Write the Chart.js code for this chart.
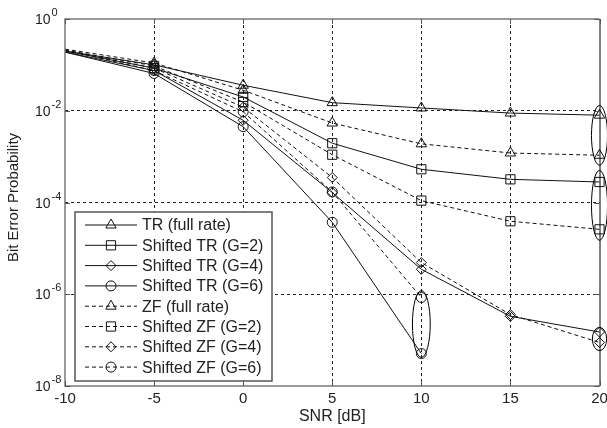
<!DOCTYPE html>
<html><head><meta charset="utf-8">
<script src="https://cdn.jsdelivr.net/npm/chart.js@4/dist/chart.umd.min.js"></script>
<style>html,body{margin:0;padding:0;background:#fff;overflow:hidden}canvas{display:block}</style>
</head><body>
<canvas id="c" width="607" height="428"></canvas>
<script>
// ---- data ----
const snr = [-10, -5, 0, 5, 10, 15, 20];
const trFull  = [0.20, 0.10,  0.036,  0.015,   0.0115,   0.0089,   0.0080];
const trG2    = [0.20, 0.085, 0.020,  0.00196, 0.00053,  0.00032,  0.00028];
const trG4    = [0.19, 0.075, 0.0062, 0.000165,0.0000035,0.00000033,0.00000015];
const trG6    = [0.19, 0.065, 0.0045, 0.000037,0.000000051, null, null];
const zfFull  = [0.22, 0.11,  0.028,  0.0054,  0.0019,   0.0012,   0.00107];
const zfG2    = [0.21, 0.095, 0.0155, 0.0011,  0.00011,  0.000039, 0.000026];
const zfG4    = [0.21, 0.085, 0.012,  0.00035, 0.0000049,0.00000036,0.000000089];
const zfG6    = [0.21, 0.075, 0.0095, 0.00017, 0.00000085, null, null];
const seriesNames = ['TR (full rate)', 'Shifted TR (G=2)', 'Shifted TR (G=4)', 'Shifted TR (G=6)',
                     'ZF (full rate)', 'Shifted ZF (G=2)', 'Shifted ZF (G=4)', 'Shifted ZF (G=6)'];
const seriesValues = [trFull, trG2, trG4, trG6, zfFull, zfG2, zfG4, zfG6];
const xTickValues = [-10, -5, 0, 5, 10, 15, 20];
const yTickExponents = [0, -2, -4, -6, -8];
const xTitle = 'SNR [dB]';
const yTitle = 'Bit Error Probability';
// annotation ellipses (data coordinates)
const ellipseX    = [10, 20, 20, 20];
const ellipseHigh = [1.2e-6, 1.3e-2, 5e-4, 1.9e-7];
const ellipseLow  = [4.2e-8, 6.5e-4, 1.5e-5, 5.9e-8];
const ellipseHalfWidthDb = [0.5, 0.45, 0.45, 0.4];

// ---- styles ----
const markerStyles = ['triangle', 'rect', 'rectRot', 'circle'];
const markerRadius = {triangle: 6, rect: 6.5, rectRot: 5, circle: 5};
const FONT = "'Liberation Sans', Arial, sans-serif";
const lineColor = '#111';

const datasets = seriesValues.map((vals, i) => {
  const ps = markerStyles[i % 4];
  const dashed = i >= 4;
  return {
    label: seriesNames[i],
    data: snr.map((x, k) => ({x: x, y: vals[k]})),
    borderColor: lineColor,
    borderWidth: 1,
    borderDash: dashed ? [4, 3] : [],
    pointStyle: ps,
    pointRadius: (ctx) => ctx.dataIndex === 0 ? 0 : markerRadius[ps],
    pointBorderColor: lineColor,
    pointBackgroundColor: 'rgba(0,0,0,0)',
    pointBorderWidth: 1,
    pointHoverRadius: markerRadius[ps],
    tension: 0,
    spanGaps: false,
    clip: false,
    fill: false
  };
});

const decor = {
  id: 'decor',
  afterDraw(chart) {
    const ctx = chart.ctx;
    const a = chart.chartArea;
    const xs = chart.scales.x, ys = chart.scales.y;
    ctx.save();
    // ellipses
    ctx.strokeStyle = '#000'; ctx.lineWidth = 1; ctx.setLineDash([]);
    for (let i = 0; i < ellipseX.length; i++) {
      const cx = xs.getPixelForValue(ellipseX[i]);
      const y1 = ys.getPixelForValue(ellipseHigh[i]);
      const y2 = ys.getPixelForValue(ellipseLow[i]);
      const hw = Math.abs(xs.getPixelForValue(ellipseX[i] + ellipseHalfWidthDb[i]) - cx);
      ctx.beginPath();
      ctx.ellipse(cx, (y1 + y2) / 2, hw, Math.abs(y2 - y1) / 2, 0, 0, Math.PI * 2);
      ctx.stroke();
    }
    // axes box
    ctx.lineWidth = 1.5; ctx.strokeStyle = '#7a7a7a';
    ctx.beginPath();
    ctx.moveTo(a.right, a.top); ctx.lineTo(a.left, a.top); ctx.lineTo(a.left, a.bottom); ctx.lineTo(a.right, a.bottom);
    ctx.stroke();
    ctx.lineWidth = 1; ctx.strokeStyle = '#000';
    ctx.beginPath(); ctx.moveTo(a.right + 0.5, a.top); ctx.lineTo(a.right + 0.5, a.bottom); ctx.stroke();
    // inner ticks
    ctx.strokeStyle = '#555'; ctx.lineWidth = 1;
    ctx.beginPath();
    xTickValues.forEach(v => {
      const px = Math.round(xs.getPixelForValue(v)) + 0.5;
      ctx.moveTo(px, a.bottom); ctx.lineTo(px, a.bottom - 5);
      ctx.moveTo(px, a.top); ctx.lineTo(px, a.top + 5);
    });
    yTickExponents.forEach(e => {
      const py = Math.round(ys.getPixelForValue(Math.pow(10, e))) + 0.5;
      ctx.moveTo(a.left, py); ctx.lineTo(a.left + 5, py);
      ctx.moveTo(a.right, py); ctx.lineTo(a.right - 5, py);
    });
    ctx.stroke();
    // x tick labels
    ctx.fillStyle = '#222';
    ctx.font = '15px ' + FONT; ctx.textAlign = 'center'; ctx.textBaseline = 'middle';
    xTickValues.forEach(v => ctx.fillText(String(v), xs.getPixelForValue(v), a.bottom + 13));
    // y tick labels 10^e
    yTickExponents.forEach(e => {
      const py = ys.getPixelForValue(Math.pow(10, e));
      ctx.textAlign = 'left'; ctx.textBaseline = 'alphabetic';
      ctx.font = '14px ' + FONT;
      ctx.fillText('10', 35, py + 5);
      const w = ctx.measureText('10').width;
      ctx.font = '11px ' + FONT;
      ctx.fillText(e === 0 ? '0' : '-' + Math.abs(e), 35 + w + 1, py - 3);
    });
    // titles
    ctx.font = '16px ' + FONT; ctx.textAlign = 'center'; ctx.textBaseline = 'middle';
    ctx.fillText(xTitle, (a.left + a.right) / 2, 417);
    ctx.save();
    ctx.translate(14, (a.top + a.bottom) / 2 - 5);
    ctx.rotate(-Math.PI / 2);
    ctx.font = '15px ' + FONT;
    ctx.fillText(yTitle, 0, 0);
    ctx.restore();
    // legend
    const lx = 75, ly = 212, lw = 197, lh = 169;
    ctx.fillStyle = '#fff'; ctx.fillRect(lx, ly, lw, lh);
    ctx.strokeStyle = '#555'; ctx.lineWidth = 1.5; ctx.strokeRect(lx, ly, lw, lh);
    chart.data.datasets.forEach((ds, i) => {
      const cy = 225 + i * 20.3;
      ctx.strokeStyle = lineColor; ctx.lineWidth = 1;
      ctx.setLineDash(ds.borderDash || []);
      ctx.beginPath(); ctx.moveTo(85, cy); ctx.lineTo(137, cy); ctx.stroke();
      ctx.setLineDash([]);
      const ps = ds.pointStyle;
      ctx.fillStyle = 'rgba(0,0,0,0)';
      ctx.strokeStyle = lineColor; ctx.lineWidth = 1;
      Chart.helpers.drawPoint(ctx, {pointStyle: ps, radius: markerRadius[ps], rotation: 0, borderWidth: 1}, 111, cy);
      ctx.fillStyle = '#222'; ctx.font = '16px ' + FONT; ctx.textAlign = 'left'; ctx.textBaseline = 'middle';
      ctx.fillText(ds.label, 142, cy + 1);
    });
    ctx.restore();
  }
};

new Chart(document.getElementById('c'), {
  type: 'line',
  data: {datasets: datasets},
  options: {
    responsive: false,
    devicePixelRatio: 1,
    animation: false,
    layout: {padding: {left: 65, right: 7, top: 19, bottom: 42}},
    plugins: {legend: {display: false}, tooltip: {enabled: false}},
    elements: {line: {borderJoinStyle: 'miter'}},
    scales: {
      x: {
        type: 'linear', min: -10, max: 20,
        ticks: {display: false, stepSize: 5},
        afterBuildTicks: (s) => { s.ticks = xTickValues.map(v => ({value: v})); },
        grid: {display: true, color: (c) => (c.tick && (c.tick.value === -10 || c.tick.value === 20)) ? 'rgba(0,0,0,0)' : '#222', lineWidth: 1, drawTicks: false},
        border: {display: false, dash: [3, 3]},
        title: {display: false}
      },
      y: {
        type: 'logarithmic', min: 1e-8, max: 1,
        ticks: {display: false},
        afterBuildTicks: (s) => { s.ticks = yTickExponents.map(e => ({value: Math.pow(10, e)})); },
        grid: {display: true, color: (c) => (c.tick && (c.tick.value >= 1 || c.tick.value <= 1e-8)) ? 'rgba(0,0,0,0)' : '#222', lineWidth: 1, drawTicks: false},
        border: {display: false, dash: [3, 3]},
        title: {display: false}
      }
    }
  },
  plugins: [decor]
});
</script>
</body></html>
